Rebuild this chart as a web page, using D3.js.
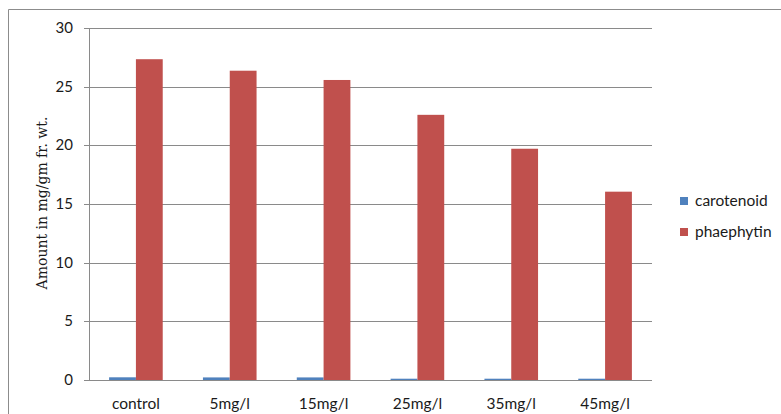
<!DOCTYPE html>
<html>
<head>
<meta charset="utf-8">
<script src="https://cdn.jsdelivr.net/npm/d3@7"></script>
<style>
  html, body { margin: 0; padding: 0; background: #fff; }
  svg { display: block; }
</style>
</head>
<body>
<svg id="chart" width="781" height="414"></svg>
<script>
// Pigment content per treatment
const categories = ["control", "5mg/l", "15mg/l", "25mg/l", "35mg/l", "45mg/l"];
const seriesNames = ["carotenoid", "phaephytin"];
const carotenoid = [0.23, 0.22, 0.22, 0.11, 0.11, 0.11];
const phaephytin = [27.34, 26.36, 25.57, 22.6, 19.71, 16.05];
const yTicks = [0, 5, 10, 15, 20, 25, 30];
const colors = ["#4F81BD", "#C0504D"];

const seriesValues = [carotenoid, phaephytin];
const svg = d3.select("#chart");
const plot = { left: 89, right: 652, top: 28, bottom: 380 };
const tickFont = "Lato, 'Open Sans', sans-serif";

// outer chart frame
svg.append("path")
  .attr("d", "M8.5,414 V9.5 H790")
  .attr("fill", "none").attr("stroke", "#8c8c8c").attr("stroke-width", 1);

const x0 = d3.scaleBand().domain(categories).range([plot.left, plot.right]).paddingInner(0).paddingOuter(0);
const barW = x0.bandwidth() / 3.5;
const x1 = d3.scaleBand().domain(seriesNames).range([0, barW * 2]);
const y = d3.scaleLinear().domain([0, 30]).range([plot.bottom, plot.top]);

// horizontal gridlines
svg.append("g").selectAll("line").data(yTicks).join("line")
  .attr("x1", plot.left - 5).attr("x2", plot.right)
  .attr("y1", d => Math.round(y(d)) + 0.5).attr("y2", d => Math.round(y(d)) + 0.5)
  .attr("stroke", "#8a8a8a").attr("stroke-width", 1);

// y axis line
svg.append("line")
  .attr("x1", plot.left + 0.5).attr("x2", plot.left + 0.5)
  .attr("y1", plot.top).attr("y2", plot.bottom)
  .attr("stroke", "#8a8a8a");

// y tick labels
svg.append("g").selectAll("text").data(yTicks).join("text")
  .attr("x", 73).attr("y", d => y(d) + 5)
  .attr("text-anchor", "end")
  .attr("font-family", tickFont).attr("font-size", 15).attr("fill", "#1a1a1a")
  .text(d => d);

// bars
const groups = svg.append("g").selectAll("g").data(categories).join("g")
  .attr("transform", c => `translate(${x0(c) + (x0.bandwidth() - barW * 2) / 2},0)`);
groups.selectAll("rect")
  .data((c, i) => seriesNames.map((s, j) => ({ s, j, v: seriesValues[j][i] })))
  .join("rect")
  .attr("x", d => x1(d.s))
  .attr("width", x1.bandwidth())
  .attr("y", d => y(d.v))
  .attr("height", d => y(0) - y(d.v))
  .attr("fill", d => colors[d.j]);

// category labels
svg.append("g").selectAll("text").data(categories).join("text")
  .attr("x", c => x0(c) + x0.bandwidth() / 2)
  .attr("y", 409)
  .attr("text-anchor", "middle")
  .attr("font-family", tickFont).attr("font-size", 15.5).attr("fill", "#1a1a1a")
  .text(c => c);

// y axis title
svg.append("text")
  .attr("transform", "translate(47,203) rotate(-90)")
  .attr("text-anchor", "middle")
  .attr("font-family", "'DejaVu Serif', 'Liberation Serif', serif")
  .attr("font-size", 14).attr("fill", "#1a1a1a")
  .text("Amount in mg/gm fr. wt.");

// legend
const legend = svg.append("g").selectAll("g").data(seriesNames).join("g")
  .attr("transform", (d, i) => `translate(680,${197 + i * 31})`);
legend.append("rect").attr("width", 8).attr("height", 8).attr("fill", (d, i) => colors[i]);
legend.append("text")
  .attr("x", 15).attr("y", 9)
  .attr("font-family", tickFont).attr("font-size", 15.5).attr("fill", "#1a1a1a")
  .text(d => d);
</script>
</body>
</html>
